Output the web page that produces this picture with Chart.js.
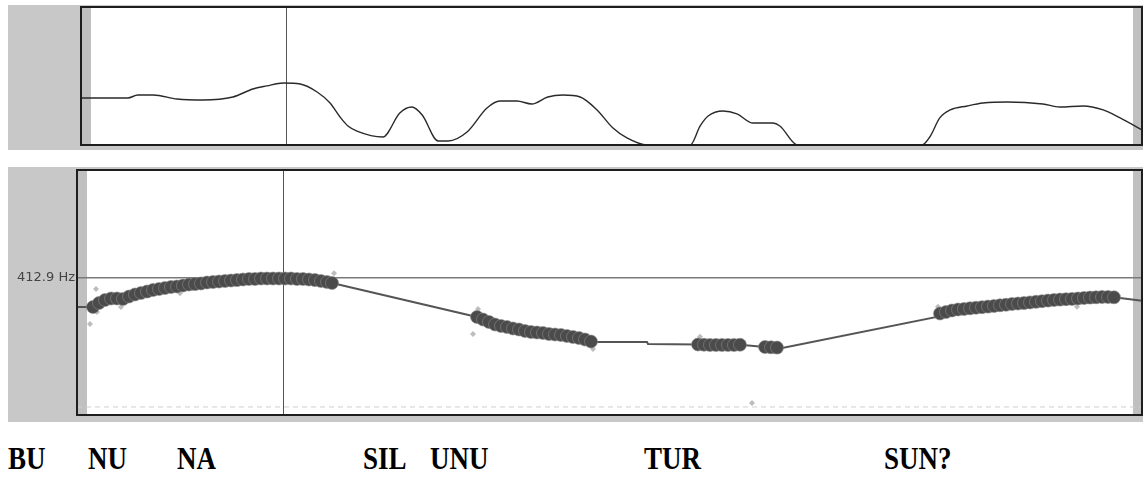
<!DOCTYPE html>
<html>
<head>
<meta charset="utf-8">
<script src="https://cdn.jsdelivr.net/npm/chart.js@4.4.1/dist/chart.umd.min.js"></script>
<style>
  html, body { margin: 0; padding: 0; background: #fff; width: 1146px; height: 478px; overflow: hidden; }
  canvas { position: absolute; background: #c8c8c8; }
  #intensity { left: 8px; top: 5px; }
  #pitch { left: 8px; top: 167px; }
  .syl {
    position: absolute; top: 447px; margin: 0;
    font: bold 27px "Liberation Serif", "Times New Roman", serif;
    line-height: 27px; color: #000; white-space: nowrap;
    transform: scaleY(1.18); transform-origin: 0 22.6px;
  }
</style>
</head>
<body>
<canvas id="intensity" width="1135" height="145"></canvas>
<canvas id="pitch" width="1135" height="255"></canvas>
<div id="labels"></div>
<script>
// time axis in ms, shared by both panels
var timeMax = 2130;
var cursorTime = 412;

// intensity curve (upper panel), 0..100 relative
var intTime = [0,94,114,145,193,245,305,345,373,406,440,474,500,520,536,554,606,640,664,685,717,737,775,815,841,875,905,937,968,1002,1036,1068,1096,1136,1223,1243,1259,1289,1317,1349,1389,1403,1439,1688,1704,1724,1745,1779,1811,1859,1931,1965,2012,2052,2086,2130];
var intVal = [34.1,34.1,36.2,36.2,33.3,32.6,34.8,40.6,42.8,44.9,44.2,38.4,30.4,20.3,13.8,10.1,5.8,23.2,27.5,21.7,2.9,2.9,9.4,26.8,31.9,31.9,29.7,34.8,36.2,34.8,25.4,12.3,5.1,0,0,13.8,21.0,24.6,22.5,15.9,15.9,13.8,0,0,5.8,19.6,25.4,28.3,30.4,31.2,29.7,27.5,28.3,25.4,19.6,10.9];

// voiced pitch frames (Hz)
var voicedTime = [32,44,56,68,80,92,104,116,128,140,152,164,176,188,200,212,224,236,248,260,272,284,296,308,320,332,344,356,368,380,392,404,416,428,440,452,464,476,488,500,510,
  800,812,824,836,848,860,872,884,896,908,920,932,944,956,968,980,992,1004,1016,1028,
  1242,1254,1266,1278,1290,1302,1314,1326,
  1376,1388,1400,
  1726,1738,1750,1762,1774,1786,1798,1810,1822,1834,1846,1858,1870,1882,1894,1906,1918,1930,1942,1954,1966,1978,1990,2002,2014,2026,2038,2050,2062,2074];
var voicedHz = [342.5,352.3,359.5,363.2,363.2,362.0,368.0,372.9,376.5,380.1,383.8,386.2,388.6,391.1,392.3,394.7,397.1,398.3,399.6,402.0,403.2,404.4,405.6,406.8,408.0,409.3,410.5,410.5,411.7,411.7,411.7,411.7,411.7,411.7,410.5,410.5,409.3,408.0,405.6,403.2,400.8,
  318.3,312.2,306.2,300.1,296.5,294.0,290.4,288.0,284.3,281.9,280.7,279.5,277.0,275.8,274.6,272.2,269.8,267.3,263.7,258.8,
  251.6,251.0,250.4,250.4,250.4,250.4,250.4,251.0,
  245.5,244.8,244.0,
  326.8,330.4,334.1,336.5,337.7,339.4,340.8,342.1,343.5,345.0,346.7,348.1,349.8,351.0,352.2,353.7,355.2,356.6,358.1,359.5,360.5,361.5,362.2,363.2,364.4,365.4,366.1,366.8,366.8,366.1];

// interpolated contour through unvoiced stretches
var gapTime = [0,1030,1140,1142,1408,1722,2130];
var gapHz = [342.5,257.6,257.6,252.8,242.4,319.0,357.8];

// unselected pitch candidates
var outTime = [26,38,40,88,206,514,792,802,1032,1246,1350,1722,2000,2076];
var outHz = [301.3,386.2,330.4,342.5,375.8,424.3,277.0,337.7,240.7,270.5,109.6,343.3,343.3,371.6];

var pitchTicks = [412.9];
var floorHz = 100;

var syllables = ['BU', 'NU', 'NA', 'SIL', 'UNU', 'TUR', 'SUN?'];
var sylLeft = [8, 88, 177, 363, 430, 644, 884];

function pts(xs, ys) {
  return xs.map(function (x, i) { return { x: x, y: ys[i] }; });
}

// white plot area, grey edge bands and frame
var panelPlugin = {
  id: 'panel',
  beforeDraw: function (chart) {
    var a = chart.chartArea, c = chart.ctx, xs = chart.scales.x;
    c.save();
    c.fillStyle = '#fff';
    c.fillRect(a.left, a.top, a.right - a.left, a.bottom - a.top);
    c.fillStyle = '#c0c0c0';
    [[0, 20], [2112, timeMax]].forEach(function (b) {
      var x0 = xs.getPixelForValue(b[0]), x1 = xs.getPixelForValue(b[1]);
      c.fillRect(x0, a.top, x1 - x0, a.bottom - a.top);
    });
    c.restore();
  },
  afterDraw: function (chart) {
    var a = chart.chartArea, c = chart.ctx;
    c.save();
    c.strokeStyle = '#1e1e1e';
    c.lineWidth = 2;
    c.strokeRect(a.left, a.top, a.right - a.left, a.bottom - a.top);
    c.restore();
  }
};

function cursorAxis() {
  return {
    type: 'linear', min: 0, max: timeMax, display: true,
    afterBuildTicks: function (s) { s.ticks = [{ value: cursorTime }]; },
    ticks: { display: false },
    grid: { color: '#555', lineWidth: 1, drawTicks: false },
    border: { display: false }
  };
}

new Chart(document.getElementById('intensity'), {
  type: 'scatter',
  data: {
    datasets: [{
      data: pts(intTime, intVal),
      showLine: true,
      borderColor: '#2a2a2a',
      borderWidth: 1.4,
      pointRadius: 0,
      cubicInterpolationMode: 'monotone'
    }]
  },
  options: {
    responsive: false,
    animation: false,
    events: [],
    layout: { autoPadding: false, padding: { left: 73, top: 2, right: 1, bottom: 5 } },
    plugins: { legend: { display: false }, tooltip: { enabled: false } },
    scales: {
      x: cursorAxis(),
      y: { min: 0, max: 100, display: false }
    }
  },
  plugins: [panelPlugin]
});

var contour = pts(voicedTime, voicedHz).concat(pts(gapTime, gapHz)).sort(function (a, b) { return a.x - b.x; });

var pitchChart = new Chart(document.getElementById('pitch'), {
  type: 'scatter',
  data: {
    datasets: [{
      // voiced frames
      data: pts(voicedTime, voicedHz),
      pointRadius: 6.5,
      pointStyle: 'circle',
      backgroundColor: '#4b4b4b',
      borderColor: '#8a8a8a',
      borderWidth: 0.6,
      order: 1
    }, {
      data: pts(outTime, outHz),
      pointRadius: 3,
      pointStyle: 'rectRot',
      backgroundColor: '#bdbdbd',
      borderWidth: 0,
      order: 2
    }, {
      data: contour,
      showLine: true,
      borderColor: '#555',
      borderWidth: 2,
      pointRadius: 0,
      order: 3
    }, {
      data: [{ x: 0, y: floorHz }, { x: timeMax, y: floorHz }],
      showLine: true,
      borderColor: '#cfcfcf',
      borderWidth: 1,
      borderDash: [5, 4],
      pointRadius: 0,
      order: 4
    }]
  },
  options: {
    responsive: false,
    animation: false,
    events: [],
    layout: { autoPadding: false, padding: { left: 0, top: 3, right: 1, bottom: 7 } },
    plugins: { legend: { display: false }, tooltip: { enabled: false } },
    scales: {
      x: cursorAxis(),
      y: {
        type: 'linear', min: 80.5, max: 675, position: 'left',
        afterBuildTicks: function (s) { s.ticks = pitchTicks.map(function (v) { return { value: v }; }); },
        afterFit: function (s) { s.width = 69; s.paddingTop = 0; s.paddingBottom = 0; },
        ticks: {
          padding: 2,
          color: '#444',
          font: { family: 'DejaVu Sans', size: 13 },
          callback: function (v) { return v.toFixed(1) + ' Hz'; }
        },
        grid: { color: '#7a7a7a', lineWidth: 1.5, drawTicks: false },
        border: { display: false }
      }
    }
  },
  plugins: [panelPlugin]
});

var box = document.getElementById('labels');
syllables.forEach(function (s, i) {
  var d = document.createElement('div');
  d.className = 'syl';
  d.style.left = sylLeft[i] + 'px';
  d.textContent = s;
  box.appendChild(d);
});
</script>
</body>
</html>
